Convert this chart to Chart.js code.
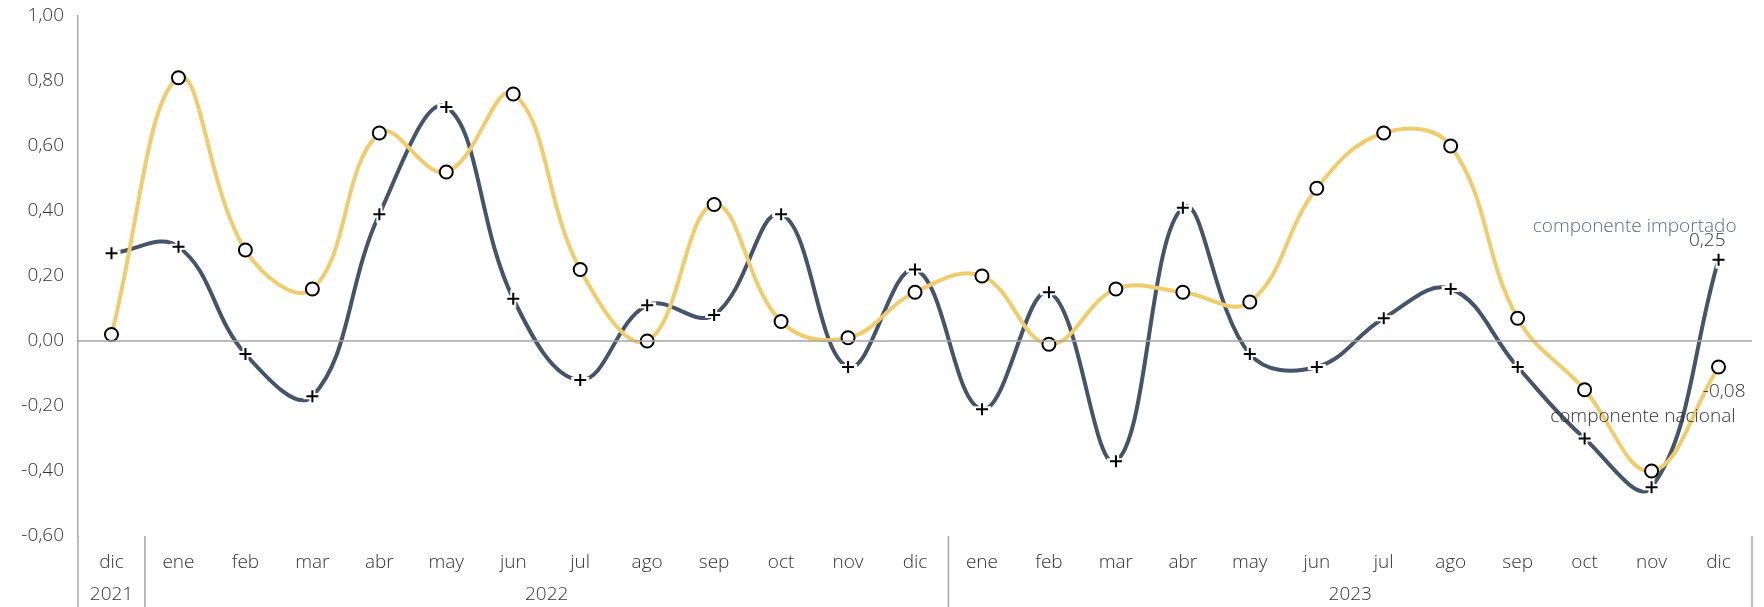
<!DOCTYPE html>
<html>
<head>
<meta charset="utf-8">
<script src="https://cdn.jsdelivr.net/npm/chart.js@4.4.1/dist/chart.umd.min.js"></script>
<style>
  html, body { margin: 0; padding: 0; background: #fff; }
  #wrap { width: 1764px; height: 607px; }
</style>
</head>
<body>
<div id="wrap"><canvas id="myChart" width="1764" height="607"></canvas></div>
<script>
// months (dic 2021 .. dic 2023)
const months = ['dic', 'ene', 'feb', 'mar', 'abr', 'may', 'jun', 'jul', 'ago', 'sep', 'oct', 'nov', 'dic',
                'ene', 'feb', 'mar', 'abr', 'may', 'jun', 'jul', 'ago', 'sep', 'oct', 'nov', 'dic'];
const years = ['2021', '2022', '2023'];
const yearSpans = [1, 12, 12];

const nacional = [0.02, 0.81, 0.28, 0.16, 0.64, 0.52, 0.76, 0.22, 0.00, 0.42, 0.06, 0.01, 0.15,
                  0.20, -0.01, 0.16, 0.15, 0.12, 0.47, 0.64, 0.60, 0.07, -0.15, -0.40, -0.08];
const importado = [0.27, 0.29, -0.04, -0.17, 0.39, 0.72, 0.13, -0.12, 0.11, 0.08, 0.39, -0.08, 0.22,
                   -0.21, 0.15, -0.37, 0.41, -0.04, -0.08, 0.07, 0.16, -0.08, -0.30, -0.45, 0.25];

const yTicks = [1.0, 0.8, 0.6, 0.4, 0.2, 0, -0.2, -0.4, -0.6];

const YELLOW = '#F0CC6C';
const SLATE = '#44546A';
const AXIS = '#a6a6a6';
const TXT = '#333333';
const FONT = '"Open Sans"';
const FSIZE = 19;
const FWEIGHT = 300;

const fmt = v => v.toFixed(2).replace('.', ',');

// "+" marker with a white halo so the line breaks around it
function crossMarker() {
    const c = document.createElement('canvas');
    c.width = 22; c.height = 22;
    const g = c.getContext('2d');
    g.strokeStyle = '#fff';
    g.lineWidth = 6;
    g.beginPath();
    g.moveTo(2, 11); g.lineTo(20, 11);
    g.moveTo(11, 2); g.lineTo(11, 20);
    g.stroke();
    g.strokeStyle = '#000';
    g.lineWidth = 2;
    g.beginPath();
    g.moveTo(5, 11); g.lineTo(17, 11);
    g.moveTo(11, 5); g.lineTo(11, 17);
    g.stroke();
    return c;
}

const extras = {
    id: 'extras',
    afterDraw(chart) {
        const ctx = chart.ctx;
        const x = chart.scales.x;
        const y = chart.scales.y;
        const area = chart.chartArea;
        const H = chart.height;
        ctx.save();

        // zero line
        ctx.strokeStyle = AXIS;
        ctx.lineWidth = 1.5;
        ctx.beginPath();
        ctx.moveTo(area.left, y.getPixelForValue(0));
        ctx.lineTo(area.right, y.getPixelForValue(0));
        ctx.stroke();

        // separators + year labels
        const half = (x.getPixelForValue(1) - x.getPixelForValue(0)) / 2;
        let idx = 0;
        ctx.beginPath();
        ctx.moveTo(area.left, area.bottom);
        ctx.lineTo(area.left, H);
        ctx.font = FWEIGHT + ' ' + FSIZE + 'px ' + FONT;
        ctx.fillStyle = TXT;
        ctx.textAlign = 'center';
        ctx.textBaseline = 'middle';
        years.forEach((yr, i) => {
            const a = x.getPixelForValue(idx);
            const b = x.getPixelForValue(idx + yearSpans[i] - 1);
            ctx.fillText(yr, (a + b) / 2, H - 12);
            const sep = b + half;
            ctx.moveTo(sep, area.bottom);
            ctx.lineTo(sep, H);
            idx += yearSpans[i];
        });
        ctx.stroke();

        // end labels
        const last = months.length - 1;
        const px = x.getPixelForValue(last);
        const pImp = y.getPixelForValue(importado[last]);
        const pNac = y.getPixelForValue(nacional[last]);
        ctx.textAlign = 'right';
        ctx.fillStyle = '#5b6a85';
        ctx.fillText('componente importado', px + 18, pImp - 33);
        ctx.fillStyle = TXT;
        ctx.fillText(fmt(importado[last]), px + 7, pImp - 19);
        ctx.fillText(fmt(nacional[last]), px + 27, pNac + 25);
        ctx.fillText('componente nacional', px + 17, pNac + 50);
        ctx.restore();
    }
};

const ctx = document.getElementById('myChart').getContext('2d');
const myChart = new Chart(ctx, {
    type: 'line',
    data: {
        labels: months,
        datasets: [{
            label: 'componente nacional',
            data: nacional,
            borderColor: YELLOW,
            borderWidth: 4,
            tension: 0.4,
            pointStyle: 'circle',
            pointRadius: 6.5,
            pointBorderWidth: 2,
            pointBorderColor: '#000',
            pointBackgroundColor: '#fff',
            order: 0
        }, {
            label: 'componente importado',
            data: importado,
            borderColor: SLATE,
            borderWidth: 4,
            tension: 0.4,
            pointStyle: crossMarker(),
            pointRadius: 8,
            order: 1
        }]
    },
    plugins: [extras],
    options: {
        responsive: false,
        animation: false,
        events: [],
        layout: { padding: { top: 0, right: 8, left: 0, bottom: 0 } },
        plugins: { legend: { display: false }, tooltip: { enabled: false } },
        scales: {
            x: {
                offset: true,
                grid: { display: false, drawTicks: false },
                border: { display: false },
                ticks: {
                    color: TXT,
                    font: { family: FONT, size: FSIZE, weight: FWEIGHT },
                    padding: 15,
                    maxRotation: 0,
                    autoSkip: false
                },
                afterFit: scale => { scale.height = 71; }
            },
            y: {
                min: -0.6,
                max: 1.0,
                afterBuildTicks: scale => { scale.ticks = yTicks.map(v => ({ value: v })); },
                grid: { display: false, drawTicks: false },
                border: { display: true, color: AXIS, width: 1.5 },
                ticks: {
                    color: TXT,
                    font: { family: FONT, size: FSIZE, weight: FWEIGHT },
                    padding: 14,
                    callback: v => fmt(v)
                },
                afterFit: scale => { scale.width = 78; scale.paddingTop = 16; }
            }
        }
    }
});
</script>
</body>
</html>
